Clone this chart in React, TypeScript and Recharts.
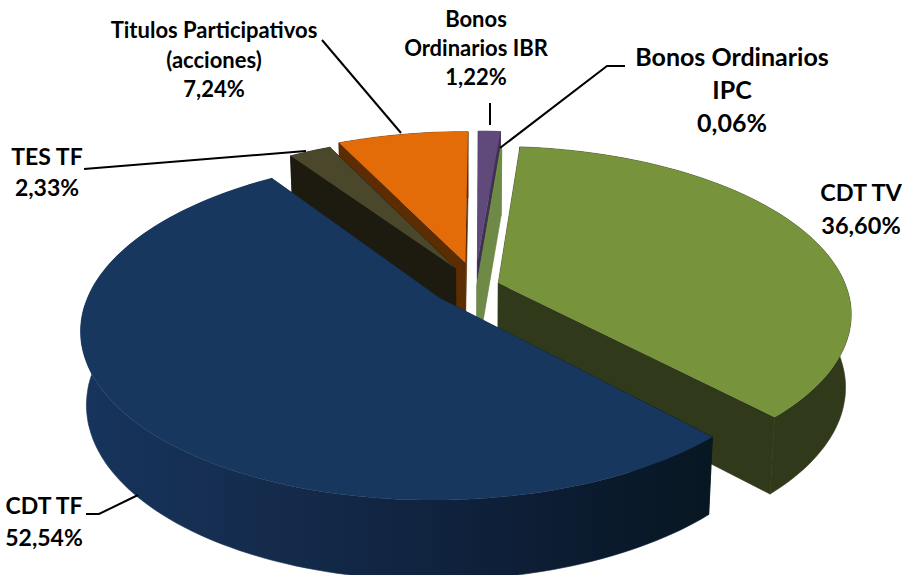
import { PieChart, Pie } from 'recharts';

const categories = ['CDT TV', 'CDT TF', 'TES TF', 'Titulos Participativos (acciones)', 'Bonos Ordinarios IBR', 'Bonos Ordinarios IPC'];
const shares = [36.6, 52.54, 2.33, 7.24, 1.22, 0.06];

const chartData = categories.map((name, i) => ({ name, value: shares[i] }));

// painter's order, back slices first
const drawOrder = [3, 2, 4, 5, 0, 1];

const topColors = ['#77933c', '#17375e', '#4a472a', '#e36c09', '#604a7b', '#77933c'];
const wallColors = ['#30391a', 'url(#blueWall)', '#1d1b10', '#5c2c02', '#3f3151', '#6f8a47'];

// explosion of each slice on the pie plane, in radius units
const explodeU = [0.08, -0.088, -0.044, -0.016, 0.02, 0.018];
const explodeV = [-0.025, 0.067, -0.117, -0.155, -0.16, -0.012];

// camera: squash of the plane, perspective, thickness of the pie
const SQUASH = 162 / 348;
const PERSPECTIVE = 0.177;
const WALL = 72;
const WALL_SX = 0.985;
const WALL_SY = 1.0375;

const labelBlocks = [
  { lines: ['CDT TV'], x: 861, y: 201, size: 23.5, gap: 33, leader: '' },
  { lines: ['CDT TF'], x: 44, y: 514, size: 23, gap: 32, leader: '86,514 99,514 138,495' },
  { lines: ['TES TF'], x: 47, y: 165, size: 23, gap: 31, leader: '84,169 306,151' },
  { lines: ['Titulos Participativos', '(acciones)'], x: 214, y: 38, size: 22, gap: 29.5, leader: '322,40 401,133' },
  { lines: ['Bonos', 'Ordinarios IBR'], x: 476, y: 27, size: 22, gap: 29, leader: '490,125 490,103' },
  { lines: ['Bonos Ordinarios', 'IPC'], x: 732, y: 66, size: 25, gap: 33, leader: '500,148 607,66 625,66' },
];

const formatShare = (v: number) => v.toFixed(2).replace('.', ',') + '%';

function Slice3D({ cx, cy, outerRadius, startAngle, endAngle, index }: any) {
  const project = (u: number, v: number, low: boolean) => {
    const f = 1 / (1 - PERSPECTIVE * v);
    const x = outerRadius * u * f;
    const y = outerRadius * SQUASH * v * f;
    return low
      ? [cx + x * WALL_SX, cy + WALL + y * WALL_SY]
      : [cx + x, cy + y];
  };
  const ou = explodeU[index];
  const ov = explodeV[index];
  const rim = (deg: number, low: boolean) => {
    const a = (deg * Math.PI) / 180;
    return project(ou + Math.cos(a), ov - Math.sin(a), low);
  };
  const tip = (low: boolean) => project(ou, ov, low);
  const toPath = (pts: number[][]) =>
    'M' + pts.map((p) => `${p[0].toFixed(1)},${p[1].toFixed(1)}`).join('L') + 'Z';

  const arcTop: number[][] = [];
  const arcLow: number[][] = [];
  const steps = Math.max(2, Math.ceil(Math.abs(startAngle - endAngle) / 1.5));
  for (let s = 0; s <= steps; s++) {
    const deg = startAngle + ((endAngle - startAngle) * s) / steps;
    arcTop.push(rim(deg, false));
    arcLow.push(rim(deg, true));
  }

  const wall = wallColors[index];
  return (
    <g>
      <defs>
        <linearGradient id="blueWall" gradientUnits="userSpaceOnUse" x1="85" x2="712" y1="0" y2="0">
          <stop offset="0" stopColor="#17345c" />
          <stop offset="0.3" stopColor="#142b4c" />
          <stop offset="0.55" stopColor="#10233f" />
          <stop offset="0.8" stopColor="#0b1b2f" />
          <stop offset="1" stopColor="#071722" />
        </linearGradient>
      </defs>
      <path d={toPath([tip(false), rim(startAngle, false), rim(startAngle, true), tip(true)])} fill={wall} stroke={wall} strokeWidth={0.6} />
      <path d={toPath([tip(false), rim(endAngle, false), rim(endAngle, true), tip(true)])} fill={wall} stroke={wall} strokeWidth={0.6} />
      <path d={toPath([...arcTop, ...arcLow.reverse()])} fill={wall} stroke={wall} strokeWidth={0.6} />
      <path d={toPath([tip(false), ...arcTop])} fill={topColors[index]} />
    </g>
  );
}

function renderLabel({ index, value }: any) {
  const b = labelBlocks[index];
  const lines = [...b.lines, formatShare(value)];
  return (
    <g key={index}>
      {b.leader && <polyline points={b.leader} fill="none" stroke="#000" strokeWidth={2} />}
      <text
        textAnchor="middle"
        fontFamily="Lato, sans-serif"
        fontWeight={700}
        fontSize={b.size}
        fill="#000"
      >
        {lines.map((t, i) => (
          <tspan key={i} x={b.x} y={b.y + i * b.gap}>
            {t}
          </tspan>
        ))}
      </text>
    </g>
  );
}

export default function App() {
  return (
    <div style={{ position: 'absolute', left: 0, top: 0, width: 905, height: 575, overflow: 'hidden', background: '#fff' }}>
      <PieChart width={905} height={575} margin={{ top: 0, right: 0, bottom: 0, left: 0 }}>
        {drawOrder.map((layer, n) => (
          <Pie
            key={layer}
            data={chartData}
            dataKey="value"
            nameKey="name"
            cx={470.6}
            cy={287}
            outerRadius={348}
            startAngle={85}
            endAngle={-275}
            stroke="none"
            isAnimationActive={false}
            labelLine={false}
            label={n === drawOrder.length - 1 ? renderLabel : false}
            shape={(props: any, i: number) =>
              i === layer ? <Slice3D {...props} index={i} /> : <g />
            }
          />
        ))}
      </PieChart>
    </div>
  );
}
